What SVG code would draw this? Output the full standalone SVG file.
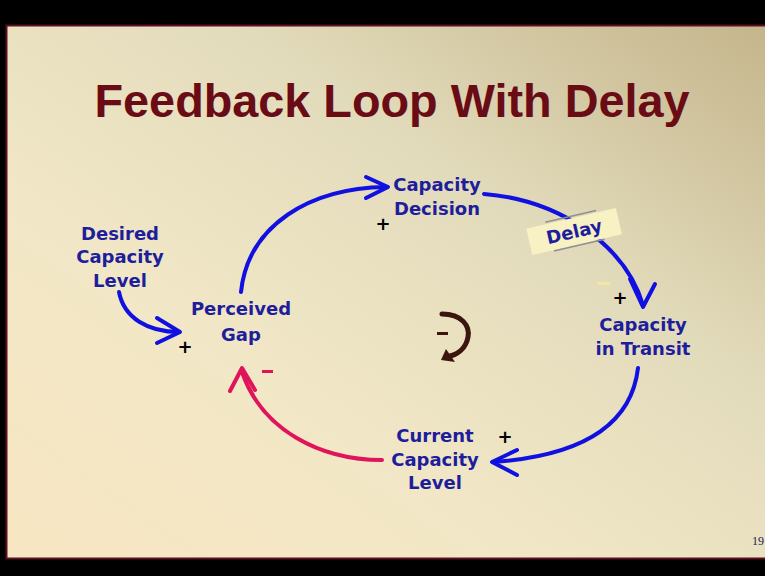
<svg xmlns="http://www.w3.org/2000/svg" width="765" height="576" viewBox="0 0 765 576">
<defs>
<linearGradient id="bg" x1="1" y1="0" x2="0" y2="1">
<stop offset="0" stop-color="#c4b48a"/>
<stop offset="0.35" stop-color="#e2dbbb"/>
<stop offset="0.65" stop-color="#f1e7c6"/>
<stop offset="1" stop-color="#f8e6c2"/>
</linearGradient>
<style>
.t{font-family:"Comic Sans MS","DejaVu Sans",sans-serif;font-weight:bold;font-size:18px;fill:#1e1e9c;text-anchor:middle}
.b{fill:none;stroke:#1010e0;stroke-width:4;stroke-linecap:round;stroke-linejoin:round}
.r{fill:none;stroke:#e0145a;stroke-width:4;stroke-linecap:round;stroke-linejoin:round}
.s{font-family:"DejaVu Sans",sans-serif;font-weight:bold;font-size:18px;fill:#000;text-anchor:middle}
</style>
</defs>
<rect width="765" height="576" fill="#000"/>
<rect x="6.5" y="25.5" width="770" height="533" fill="url(#bg)" stroke="#5a1020" stroke-width="2"/>
<text x="392" y="117" font-family="'Liberation Sans',Arial,sans-serif" font-weight="bold" font-size="46" fill="#6a0c16" text-anchor="middle" textLength="595" lengthAdjust="spacingAndGlyphs">Feedback Loop With Delay</text>
<g id="connectors">
<path class="b" d="M119,292 C124,318 148,332 179,332"/>
<path class="b" d="M157,318 L180,332 L157,343"/>
<path class="b" d="M241,292 C248,225 310,188 386,187"/>
<path class="b" d="M366,177 L388,187 L366,198"/>
<path class="b" d="M484,194 C560,200 625,245 643,305"/>
<path class="b" d="M630,279 L643,307 L655,284"/>
<path class="b" d="M638,368 C632,420 590,455 494,462"/>
<path class="b" d="M517,450 L492,462 L517,475"/>
<path class="r" d="M382,460 C320,460 262,430 242,372"/>
<path class="r" d="M230,391 L242,368 L255,390"/>
<text class="s" x="185" y="353">+</text>
<text class="s" x="383" y="230">+</text>
<text class="s" x="620" y="304">+</text>
<text class="s" x="505" y="443">+</text>
<rect x="262" y="370" width="11" height="3" fill="#e0145a"/>
<rect x="597" y="282" width="13" height="3" fill="#f3e6a0"/>
</g>
<g id="delay" transform="rotate(-13 574 231)">
<rect x="528" y="218" width="92" height="27" fill="#f7f1c4"/>
<line x1="548" y1="216" x2="600" y2="216" stroke="#909090" stroke-width="1.5"/>
<line x1="550" y1="246" x2="602" y2="246" stroke="#909090" stroke-width="1.5"/>
<text class="t" x="574" y="238" font-size="17">Delay</text>
</g>
<g id="desired"><text class="t" x="120" y="240">Desired</text><text class="t" x="120" y="263">Capacity</text><text class="t" x="120" y="287">Level</text></g>
<g id="gap"><text class="t" x="241" y="315">Perceived</text><text class="t" x="241" y="341">Gap</text></g>
<g id="decision"><text class="t" x="437" y="191">Capacity</text><text class="t" x="437" y="215">Decision</text></g>
<g id="transit"><text class="t" x="643" y="331">Capacity</text><text class="t" x="643" y="355">in Transit</text></g>
<g id="current"><text class="t" x="435" y="442">Current</text><text class="t" x="435" y="466">Capacity</text><text class="t" x="435" y="489">Level</text></g>
<g id="loop">
<path d="M442,314 C462,314 470,326 468,337 C466,348 458,354 450,356" fill="none" stroke="#3a160e" stroke-width="5" stroke-linecap="round"/>
<path d="M446,349 L455,362 L441,360 Z" fill="#3a160e"/>
<rect x="437" y="332" width="11" height="3" fill="#3a160e"/>
</g>
<text x="752" y="545" font-family="'Liberation Serif',serif" font-size="12" fill="#1a1a5a">19</text>
</svg>
